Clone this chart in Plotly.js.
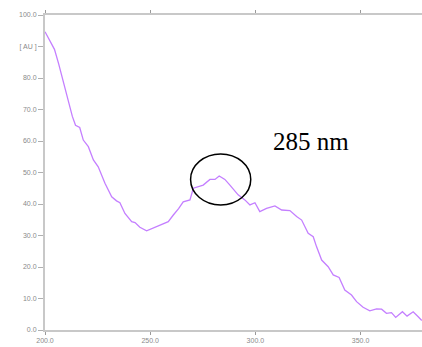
<!DOCTYPE html>
<html>
<head>
<meta charset="utf-8">
<script src="https://cdn.plot.ly/plotly-3.0.1.min.js"></script>
<style>html,body{margin:0;padding:0;background:#fff;}#chart{width:422px;height:347px;}</style>
</head>
<body>
<div id="chart"></div>
<script>
// Wavelength (nm)
const wavelength = [200,202,204.5,206.5,209,211,213,214.5,216.5,218.2,220.6,223,225.3,228.5,231.7,234,235.6,238,241.2,242.8,245.1,248.3,251.4,255,258.6,261,263.5,265.7,268.9,270.5,273,275.2,278.4,280.8,282.8,285.5,287.9,291.8,295,297.4,299.8,302.1,305.3,309.3,312.5,316.4,319.6,322,325.1,327.5,329.1,331.5,334.6,337,339.8,342.5,345.7,348.1,351.2,354.4,357.6,360,362.3,364.7,366.7,369.9,372.1,375,377.4,379.1];
// Absorbance (AU)
const absorbance = [94.7,92.3,89.1,84.5,78.0,72.8,67.8,65.0,64.3,60.3,58.2,54.0,51.8,46.6,42.3,41.0,40.4,37.0,34.4,34.1,32.6,31.5,32.3,33.4,34.4,36.5,38.5,40.7,41.3,45.0,45.6,46.0,47.8,47.8,48.9,47.8,46.0,42.9,41.3,39.7,40.4,37.6,38.6,39.4,38.1,37.9,36.0,34.9,30.7,29.6,26.4,22.2,20.1,17.5,16.7,12.7,11.1,9.0,7.2,6.1,6.7,6.6,5.3,5.5,4.0,5.8,4.4,5.8,4.2,3.0];
// Tick labels
const xTickVals = [200,250,300,350];
const xTickText = ["200.0","250.0","300.0","350.0"];
const yTickVals = [0,10,20,30,40,50,60,70,80,90,100];
const yTickText = ["0.0","10.0","20.0","30.0","40.0","50.0","60.0","70.0","80.0","[ AU ]","100.0"];
// Annotation
const peakLabel = "285 nm";
const peakNm = 285;

const trace = {
  x: wavelength, y: absorbance, type: 'scatter', mode: 'lines',
  line: {color: '#c47fff', width: 1.3}, hoverinfo: 'skip'
};

const layout = {
  width: 422, height: 347,
  margin: {l: 45, r: 0, t: 15, b: 17},
  paper_bgcolor: '#fff', plot_bgcolor: '#fff',
  showlegend: false,
  font: {family: 'Liberation Sans, Arial, sans-serif', size: 7, color: '#8a8a8a'},
  xaxis: {
    range: [200, 379.2], tickvals: xTickVals, ticktext: xTickText,
    showgrid: false, zeroline: false, showline: true, linecolor: '#c8c8c8', linewidth: 2,
    mirror: 'ticks', ticks: 'outside', ticklen: 3, tickcolor: '#9a9a9a', tickwidth: 1,
    tickfont: {size: 7, color: '#8a8a8a'}
  },
  yaxis: {
    range: [0, 100], tickvals: yTickVals, ticktext: yTickText,
    showgrid: false, zeroline: false, showline: true, linecolor: '#c8c8c8', linewidth: 2,
    ticks: 'outside', ticklen: 5, tickcolor: '#b0b0b0', tickwidth: 1,
    tickfont: {size: 7, color: '#8a8a8a'}
  },
  shapes: [{
    type: 'circle', xref: 'x', yref: 'y',
    x0: 269.2, x1: 297.8, y0: 39.7, y1: 55.9,
    line: {color: '#000', width: 1.5}
  }],
  annotations: [{
    x: 326.4, y: 59.7, xref: 'x', yref: 'y', text: peakLabel, showarrow: false,
    font: {family: 'Liberation Serif, Times New Roman, serif', size: 25, color: '#000'},
    xanchor: 'center', yanchor: 'middle'
  }]
};

Plotly.newPlot('chart', [trace], layout, {displayModeBar: false, staticPlot: true});
</script>
</body>
</html>
